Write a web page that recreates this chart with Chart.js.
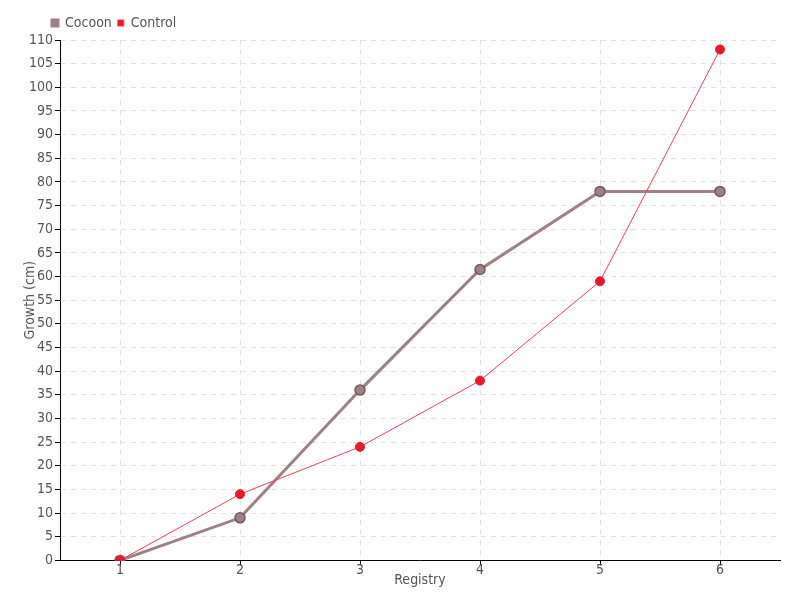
<!DOCTYPE html>
<html>
<head>
<meta charset="utf-8">
<script src="https://cdn.jsdelivr.net/npm/chart.js@4"></script>
<style>
  html, body { margin: 0; padding: 0; background: #fff; }
  #wrap { width: 800px; height: 600px; }
</style>
</head>
<body>
<div id="wrap"><canvas id="chart"></canvas></div>
<script>
// ── Data ──────────────────────────────────────────────
const registry = ['1', '2', '3', '4', '5', '6'];
const cocoon   = [0, 9, 36, 61.5, 78, 78];
const control  = [0, 14, 24, 38, 59, 108];

const FONT = "'DejaVu Sans Condensed', sans-serif";
Chart.defaults.font.family = FONT;
Chart.defaults.font.size = 14;
Chart.defaults.color = '#555';

const gridOpts = {
  color: '#e3e3e3',
  tickColor: '#000',
  tickLength: 5,
  tickBorderDash: [],
};
const borderOpts = { color: '#000', width: 1, dash: [5, 5] };

// nudge the legend right so it sits over the plot like the original
const legendShift = {
  id: 'legendShift',
  afterLayout(chart) {
    if (chart.legend) chart.legend.left += 24;
  },
};

new Chart(document.getElementById('chart'), {
  type: 'line',
  data: {
    labels: registry,
    datasets: [
      {
        label: 'Cocoon',
        data: cocoon,
        borderColor: '#9e8085',
        backgroundColor: '#9e8085',
        pointBackgroundColor: '#9e8085',
        pointBorderColor: '#6f5a5e',
        pointBorderWidth: 1.5,
        pointRadius: 5,
        borderWidth: 3,
        order: 2,
      },
      {
        label: 'Control',
        data: control,
        borderColor: '#ff3b4e',
        backgroundColor: '#e8192c',
        pointBackgroundColor: '#e8192c',
        pointBorderColor: '#e8192c',
        pointRadius: 4.5,
        borderWidth: 1,
        order: 1,
      },
    ],
  },
  plugins: [legendShift],
  options: {
    responsive: true,
    maintainAspectRatio: false,
    animation: false,
    layout: { padding: { top: 10, right: 20, left: 22, bottom: 7 } },
    plugins: {
      legend: {
        position: 'top',
        align: 'start',
        labels: {
          boxWidth: 6, boxHeight: 6, padding: 6, font: { size: 14 },
          sort: (a, b) => a.datasetIndex - b.datasetIndex,
        },
      },
      tooltip: { enabled: false },
    },
    scales: {
      x: {
        offset: true,
        grid: gridOpts,
        border: borderOpts,
        ticks: { padding: -3 },
        title: { display: true, text: 'Registry', padding: { top: -4, bottom: 4 } },
      },
      y: {
        min: 0,
        max: 110,
        grid: gridOpts,
        border: borderOpts,
        ticks: { stepSize: 5, padding: 2 },
        title: { display: true, text: 'Growth (cm)', padding: 0 },
        afterFit: scale => { scale.width = 38; },
      },
    },
  },
});
</script>
</body>
</html>
